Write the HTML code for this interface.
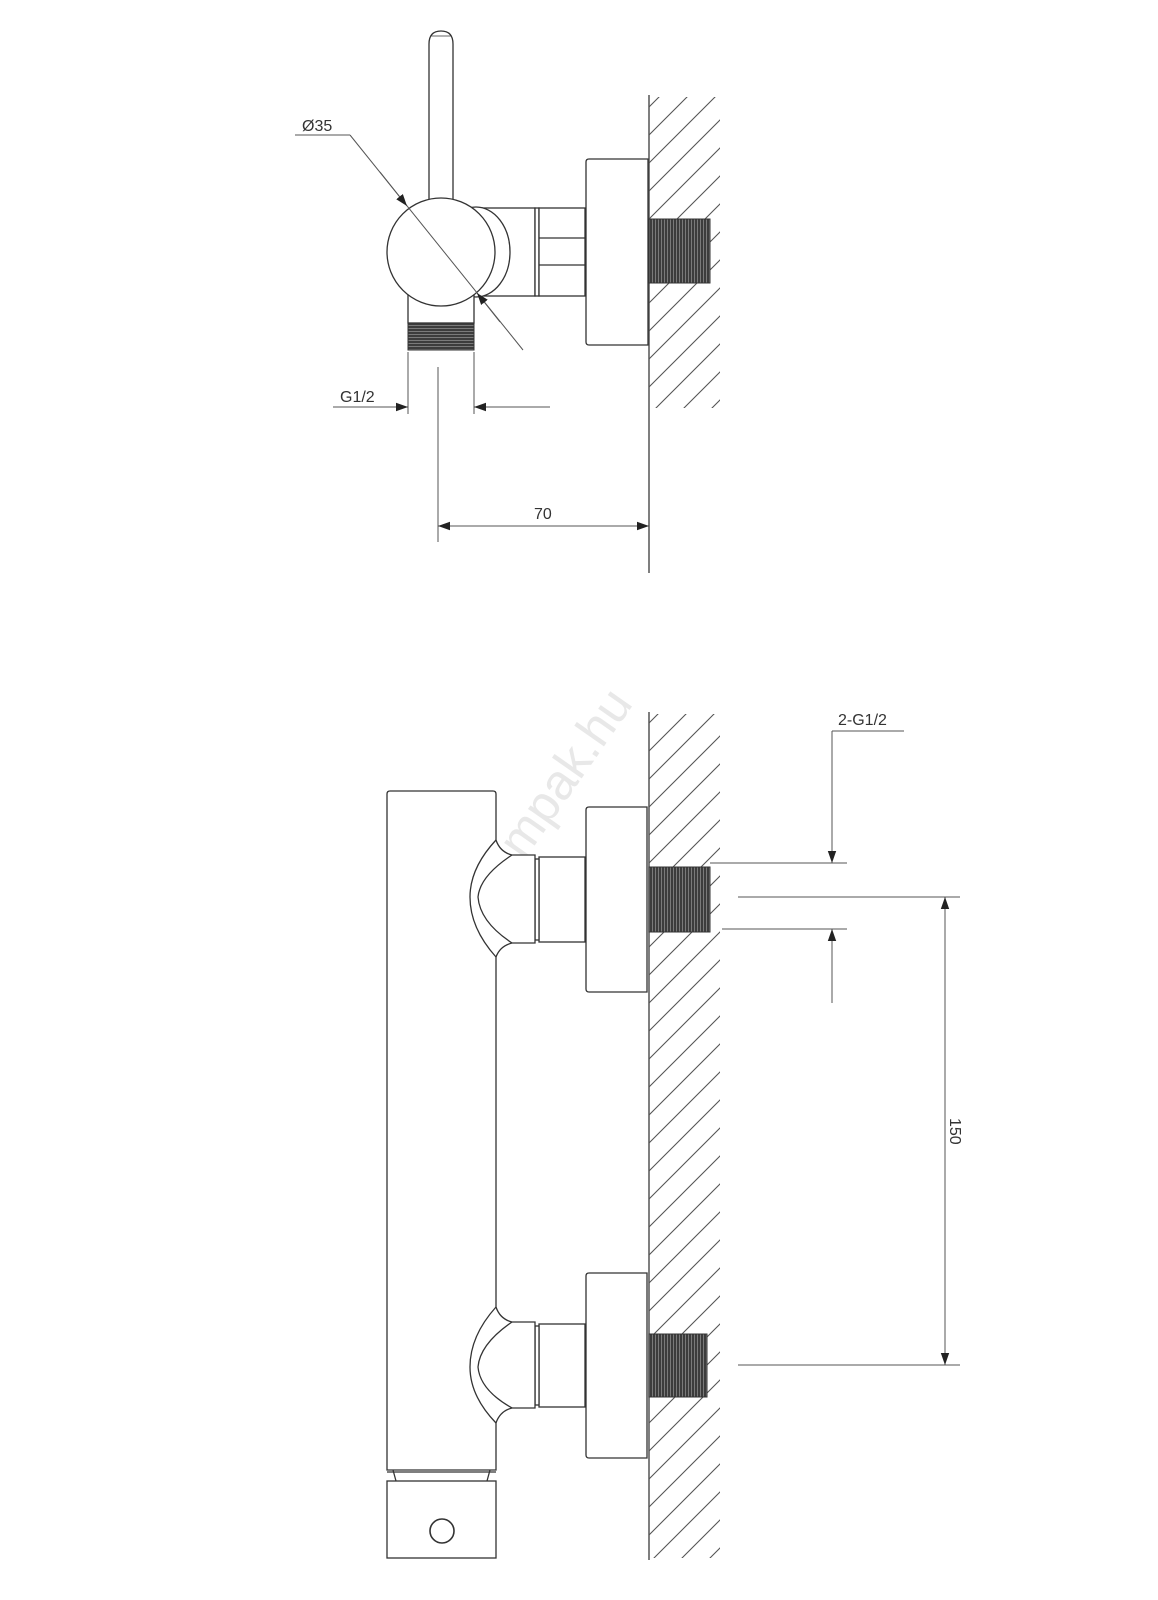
<!DOCTYPE html>
<html><head><meta charset="utf-8"><style>
html,body{margin:0;padding:0;background:#fff;}
svg{display:block;}
text{font-family:"Liberation Sans",sans-serif;fill:#333;}
</style></head><body>
<svg width="1158" height="1600" viewBox="0 0 1158 1600" xmlns="http://www.w3.org/2000/svg">
<defs>
<pattern id="hatch" patternUnits="userSpaceOnUse" width="28" height="28">
<path d="M0,28 L28,0 M-7,7 L7,-7 M21,35 L35,21" stroke="#555" stroke-width="1.1"/>
</pattern>
<pattern id="thrV" patternUnits="userSpaceOnUse" width="3" height="10">
<rect width="3" height="10" fill="#3c3c3c"/><line x1="1.5" y1="0" x2="1.5" y2="10" stroke="#8a8a8a" stroke-width="0.8"/>
</pattern>
<pattern id="thrH" patternUnits="userSpaceOnUse" width="10" height="3">
<rect width="10" height="3" fill="#3c3c3c"/><line x1="0" y1="1.5" x2="10" y2="1.5" stroke="#8a8a8a" stroke-width="0.8"/>
</pattern>
<marker id="ar" viewBox="0 0 10 10" refX="10" refY="5" markerWidth="12" markerHeight="12" markerUnits="userSpaceOnUse" orient="auto-start-reverse">
<path d="M0,1.5 L10,5 L0,8.5 z" fill="#222"/>
</marker>
</defs>

<!-- watermark -->
<text x="0" y="0" font-size="50" style="fill:#e8e8e8" transform="translate(500,895) rotate(-55)">fampak.hu</text>

<!-- ===== TOP VIEW ===== -->
<rect x="649" y="97" width="71" height="311" fill="url(#hatch)"/>
<line x1="649" y1="95" x2="649" y2="573" stroke="#555" stroke-width="1.5"/>
<g fill="#fff" stroke="#333" stroke-width="1.3">
<path d="M429,200 L429,44 Q429,31 441,31 Q453,31 453,44 L453,200"/>
<line x1="431" y1="36" x2="451" y2="36" stroke-width="0.8"/>
<rect x="470" y="208" width="65" height="88"/>
<ellipse cx="476" cy="252" rx="34" ry="45"/>
<rect x="535" y="208" width="4" height="88"/>
<rect x="539" y="208" width="46" height="88"/>
<line x1="539" y1="238" x2="585" y2="238"/>
<line x1="539" y1="265" x2="585" y2="265"/>
<path d="M589,159 L648,159 L648,345 L589,345 Q586,345 586,342 L586,162 Q586,159 589,159 Z"/>
<rect x="408" y="290" width="66" height="33"/>
<circle cx="441" cy="252" r="54"/>
</g>
<rect x="649" y="219" width="61" height="64" fill="url(#thrV)" stroke="#333"/>
<rect x="408" y="323" width="66" height="27" fill="url(#thrH)" stroke="#333"/>
<g stroke="#555" stroke-width="1" fill="none">
<line x1="408" y1="352" x2="408" y2="414"/>
<line x1="474" y1="352" x2="474" y2="414"/>
<line x1="438" y1="367" x2="438" y2="542"/>
<line x1="333" y1="407" x2="408" y2="407" marker-end="url(#ar)"/>
<line x1="550" y1="407" x2="474" y2="407" marker-end="url(#ar)"/>
<line x1="295" y1="135" x2="350" y2="135"/>
<line x1="350" y1="135" x2="523" y2="350"/>
<line x1="380" y1="172" x2="407" y2="206" marker-end="url(#ar)"/>
<line x1="500" y1="322" x2="477" y2="293" marker-end="url(#ar)"/>
<line x1="438" y1="526" x2="649" y2="526" marker-start="url(#ar)" marker-end="url(#ar)"/>
</g>
<text x="302" y="131" font-size="16">Ø35</text>
<text x="340" y="402" font-size="16">G1/2</text>
<text x="534" y="519" font-size="16">70</text>

<!-- ===== BOTTOM VIEW ===== -->
<rect x="649" y="714" width="71" height="844" fill="url(#hatch)"/>
<line x1="649" y1="712" x2="649" y2="1560" stroke="#555" stroke-width="1.5"/>
<g fill="#fff" stroke="#333" stroke-width="1.3">
<path d="M589,807 L647,807 L647,992 L589,992 Q586,992 586,989 L586,810 Q586,807 589,807 Z"/>
<path d="M589,1273 L647,1273 L647,1458 L589,1458 Q586,1458 586,1455 L586,1276 Q586,1273 589,1273 Z"/>
<rect x="539" y="857" width="46" height="85"/>
<rect x="535" y="859" width="4" height="81"/>
<rect x="539" y="1324" width="46" height="83"/>
<rect x="535" y="1326" width="4" height="79"/>
<path d="M387,1470 L387,794 Q387,791 390,791 L493,791 Q496,791 496,794 L496,840 Q500,852 512,855 L535,855 L535,943 L512,943 Q500,946 496,957 L496,1307 Q500,1319 512,1322 L535,1322 L535,1408 L512,1408 Q500,1411 496,1423 L496,1470 Z"/>
<path d="M496,840 Q470,868 470,897 Q470,928 496,957" fill="none"/>
<path d="M512,855 Q480,876 478,897 Q480,922 512,943" fill="none"/>
<path d="M496,1307 Q470,1336 470,1367 Q470,1396 496,1423" fill="none"/>
<path d="M512,1322 Q480,1344 478,1367 Q480,1390 512,1408" fill="none"/>
<path d="M393,1470 L396,1481 M490,1470 L487,1481" fill="none"/>
<line x1="387" y1="1472" x2="496" y2="1472"/>
<rect x="387" y="1481" width="109" height="77"/>
<circle cx="442" cy="1531" r="12" stroke-width="1.6"/>
</g>
<rect x="649" y="867" width="61" height="65" fill="url(#thrV)" stroke="#333"/>
<rect x="649" y="1334" width="58" height="63" fill="url(#thrV)" stroke="#333"/>
<g stroke="#555" stroke-width="1" fill="none">
<line x1="832" y1="731" x2="904" y2="731"/>
<line x1="832" y1="731" x2="832" y2="863" marker-end="url(#ar)"/>
<line x1="832" y1="1003" x2="832" y2="929" marker-end="url(#ar)"/>
<line x1="710" y1="863" x2="847" y2="863"/>
<line x1="722" y1="929" x2="847" y2="929"/>
<line x1="738" y1="897" x2="960" y2="897"/>
<line x1="738" y1="1365" x2="960" y2="1365"/>
<line x1="945" y1="897" x2="945" y2="1365" marker-start="url(#ar)" marker-end="url(#ar)"/>
</g>
<text x="838" y="725" font-size="16">2-G1/2</text>
<text x="0" y="0" font-size="16" transform="translate(950,1118) rotate(90)">150</text>
</svg>
</body></html>
